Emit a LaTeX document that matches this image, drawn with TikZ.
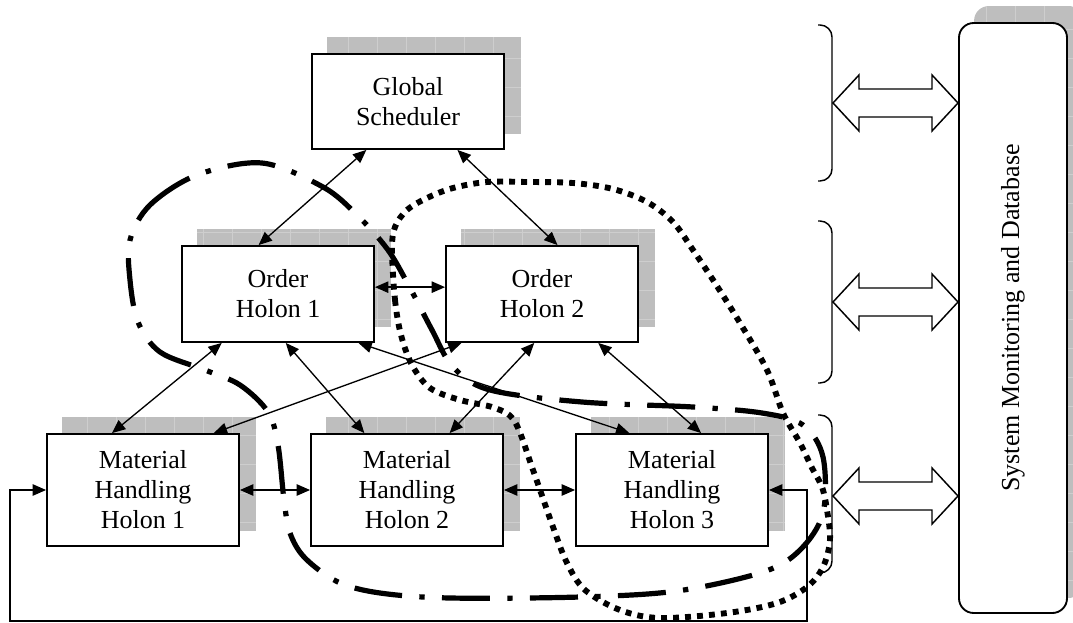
\documentclass[tikz,border=0pt]{standalone}
\usepackage{fontspec}
\setmainfont{Liberation Serif}
\usetikzlibrary{arrows.meta,calc,backgrounds}

\definecolor{shadowgray}{RGB}{190,190,190}
\definecolor{gridgray}{RGB}{206,206,206}

\newcommand\holonfont{\fontsize{19.5pt}{22.5pt}\selectfont}

% gray gridded plate offset up and to the right of node #1
\newcommand\plateof[1]{%
  \begin{scope}
    \clip ([shift={(16,-16)}]#1.south west) rectangle ([shift={(16,-16)}]#1.north east);
    \fill[shadowgray] ([shift={(16,-16)}]#1.south west) rectangle ([shift={(16,-16)}]#1.north east);
    \draw[gridgray, line width=0.5pt, step=21.75pt]
      ([shift={(16,-16)}]#1.south west) grid ([shift={(16,-16)}]#1.north east);
  \end{scope}}

% hollow two-headed block arrow starting at the left tip
\newcommand\blockarrow[1]{%
  \draw[hollow] (#1) -- ++(26,-28) -- ++(0,14) -- ++(73,0) -- ++(0,-14)
    -- ++(26,28) -- ++(-26,28) -- ++(0,-14) -- ++(-73,0) -- ++(0,14) -- cycle;}

\tikzset{
  holon/.style={draw, line width=1.4pt, fill=white, align=center,
    inner sep=0pt, minimum width=144pt, font=\holonfont},
  sysbox/.style={draw, line width=1.4pt, fill=white, rounded corners=11pt,
    inner sep=0pt, font=\holonfont},
  link/.style={line width=1pt,
    {Triangle[length=10pt,width=8.5pt]}-{Triangle[length=10pt,width=8.5pt]}},
  hollow/.style={draw, fill=white, line width=1.1pt, line join=miter},
  bracket/.style={line width=1.1pt, rounded corners=9pt},
  groupA/.style={line width=3.9pt,
    dash pattern=on 36pt off 13pt on 4pt off 13pt},
  groupB/.style={line width=4.4pt, dash pattern=on 4.4pt off 4.6pt},
}

\begin{document}
\begin{tikzpicture}[x=0.75pt, y=-0.75pt]
\useasboundingbox (0,0) rectangle (1073,623);

% holons
\node[holon, minimum height=71.25pt] (gs)  at (408,101.5) {Global\\Scheduler};
\node[holon, minimum height=72pt]    (oh1) at (278,294) {Order\\Holon 1};
\node[holon, minimum height=72pt]    (oh2) at (542,294) {Order\\Holon 2};
\node[holon, minimum height=84pt]    (mh1) at (143,490) {Material\\Handling\\Holon 1};
\node[holon, minimum height=84pt]    (mh2) at (407,490) {Material\\Handling\\Holon 2};
\node[holon, minimum height=84pt]    (mh3) at (672,490) {Material\\Handling\\Holon 3};

% monitoring column
\node[sysbox, rotate=90, minimum width=442.5pt, minimum height=81pt] (sys)
  at (1013,318) {System Monitoring and Database};

\begin{pgfonlayer}{background}
  \fill[white] (0,0) rectangle (1073,623);
  \plateof{gs}
  \plateof{oh1}
  \plateof{oh2}
  \plateof{mh1}
  \plateof{mh2}
  \plateof{mh3}
  \begin{scope}
    \clip (0,0) rectangle (1073,623);
    \clip[rounded corners=11pt] ([shift={(16,-16)}]sys.south west)
      rectangle ([shift={(16,-16)}]sys.north east);
    \fill[shadowgray] ([shift={(16,-16)}]sys.south west)
      rectangle ([shift={(16,-16)}]sys.north east);
    \draw[gridgray, line width=0.5pt, step=21.75pt]
      ([shift={(16,-16)}]sys.south west) grid ([shift={(16,-16)}]sys.north east);
  \end{scope}
\end{pgfonlayer}

% holon groupings
\draw[groupA] plot[smooth cycle, tension=0.55] coordinates {
  (130,240) (150,205) (197,175) (262,163) (323,187) (357,215) (388,250)
  (410,288) (432,330) (453,367) (490,390) (582,402) (693,407) (762,413)
  (803,425) (823,457) (823,513) (800,550) (763,572) (677,591) (580,597)
  (450,598) (380,593) (338,582) (305,558) (290,533) (284,500) (278,445)
  (268,412) (240,385) (205,370) (160,352) (138,322) (130,280)};
\draw[groupB] plot[smooth cycle, tension=0.55] coordinates {
  (392,250) (395,300) (401,335) (412,365) (430,388) (460,400) (495,408)
  (515,422) (533,470) (553,527) (567,563) (585,590) (620,610) (660,618)
  (727,613) (777,603) (807,587) (823,567) (830,540) (827,510) (822,487)
  (812,468) (800,443) (783,413) (767,370) (740,323) (715,283) (693,250)
  (673,222) (647,202) (613,189) (573,183) (527,182) (487,182) (453,188)
  (427,198) (407,210) (395,227)};

% scheduler to order holons
\draw[link] ($(gs.south west)!0.285!(gs.south east)$) -- ($(oh1.north west)!0.40!(oh1.north east)$);
\draw[link] ($(gs.south west)!0.755!(gs.south east)$) -- ($(oh2.north west)!0.58!(oh2.north east)$);
\draw[link] ($(oh1.north east)!0.43!(oh1.south east)$) -- ($(oh2.north west)!0.43!(oh2.south west)$);

% order holons to material handling holons
\draw[link] ($(oh1.south west)!0.21!(oh1.south east)$) -- ($(mh1.north west)!0.34!(mh1.north east)$);
\draw[link] ($(oh1.south west)!0.54!(oh1.south east)$) -- ($(mh2.north west)!0.28!(mh2.north east)$);
\draw[link] ($(oh1.south west)!0.915!(oh1.south east)$) -- ($(mh3.north west)!0.28!(mh3.north east)$);
\draw[link] ($(oh2.south west)!0.085!(oh2.south east)$) -- ($(mh1.north west)!0.865!(mh1.north east)$);
\draw[link] ($(oh2.south west)!0.46!(oh2.south east)$) -- ($(mh2.north west)!0.72!(mh2.north east)$);
\draw[link] ($(oh2.south west)!0.79!(oh2.south east)$) -- ($(mh3.north west)!0.65!(mh3.north east)$);

% material handling chain and return loop
\draw[link] (mh1.east) -- (mh2.west);
\draw[link] (mh2.east) -- (mh3.west);
\coordinate (loopR) at (807,621);
\coordinate (loopL) at (10,621);
\draw[link] (mh3.east) -| (loopR) -- (loopL) |- (mh1.west);

% level brackets
\draw[bracket] (818,25)  -- (832,25)  -- (832,181) -- (818,181);
\draw[bracket] (818,221) -- (832,221) -- (832,383) -- (818,383);
\draw[bracket] (818,415) -- (832,415) -- (832,573) -- (818,573);

% exchanges with monitoring
\coordinate (x1) at (833,103);
\coordinate (x2) at (833,302);
\coordinate (x3) at (833,496);
\blockarrow{x1}
\blockarrow{x2}
\blockarrow{x3}
\end{tikzpicture}
\end{document}
